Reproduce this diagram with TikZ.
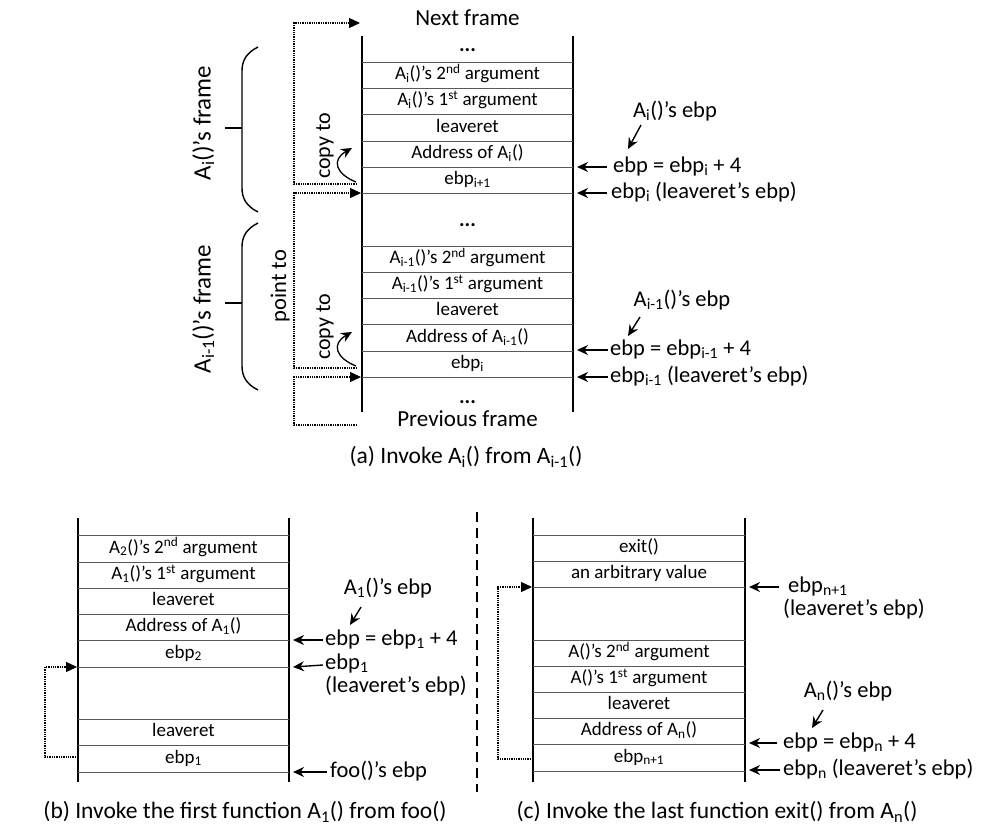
\documentclass[tikz,border=0pt]{standalone}
\usepackage{fontspec}
\setmainfont{Carlito}
\usetikzlibrary{arrows.meta}
\tikzset{
  stackline/.style={line width=1.6pt},
  rowline/.style={line width=0.9pt, draw=black!65},
  cell/.style={font=\fontsize{19}{22}\selectfont, inner sep=0pt, text height=13pt, text depth=4pt},
  dotcell/.style={font=\fontsize{21}{24}\selectfont\bfseries, inner sep=0pt, text height=13pt, text depth=4pt},
  lab/.style={font=\fontsize{22.5}{26}\selectfont, inner sep=0pt, text height=15pt, text depth=5pt},
  framelab/.style={font=\fontsize{25}{28}\selectfont, inner sep=0pt, text height=17pt, text depth=6pt},
  copylab/.style={font=\fontsize{22}{26}\selectfont, inner sep=0pt, text height=15pt, text depth=5pt},
  title/.style={font=\fontsize{23}{27}\selectfont, inner sep=0pt, text height=15pt, text depth=5pt},
  captext/.style={font=\fontsize{23.5}{27}\selectfont, inner sep=0pt, text height=16pt, text depth=5pt},
  ptr/.style={line width=1.4pt, -{Stealth[length=11pt,width=10pt]}},
  dots/.style={densely dotted, line width=1.3pt},
  dotarr/.style={dots, -{Triangle[length=11pt,width=10pt]}},
  brace/.style={line width=1.4pt},
  curvearr/.style={line width=1.3pt, -{Stealth[length=11pt,width=10pt]}},
}
\newcommand{\sbs}[1]{\textsubscript{#1}}
\newcommand{\sps}[1]{\textsuperscript{#1}}
\begin{document}
\begin{tikzpicture}[x=1pt,y=-1pt]
\useasboundingbox (0,0) rectangle (996,838);

% ================= (a) =================
\draw[stackline] (362,36) -- (362,412);
\draw[stackline] (573,36) -- (573,412);
\foreach \y in {62,88,114,141,167,193,246,272,298,324,351,377}
  \draw[rowline] (362,\y) -- (573,\y);

\node[title] (nf) at (467.5,20) {Next frame};
\node[dotcell] (d1) at (467.5,47) {...};
\node[cell] (a1) at (467.5,75) {A\sbs{i}()’s 2\sps{nd} argument};
\node[cell] (a2) at (467.5,101) {A\sbs{i}()’s 1\sps{st} argument};
\node[cell] (a3) at (467.5,127.5) {leaveret};
\node[cell] (a4) at (467.5,154) {Address of A\sbs{i}()};
\node[cell] (a5) at (467.5,180) {ebp\sbs{i+1}};
\node[dotcell] (d2) at (467.5,222) {...};
\node[cell] (a6) at (467.5,259) {A\sbs{i-1}()’s 2\sps{nd} argument};
\node[cell] (a7) at (467.5,285) {A\sbs{i-1}()’s 1\sps{st} argument};
\node[cell] (a8) at (467.5,311) {leaveret};
\node[cell] (a9) at (467.5,337.5) {Address of A\sbs{i-1}()};
\node[cell] (a10) at (467.5,364) {ebp\sbs{i}};
\node[dotcell] (d3) at (467.5,399) {...};
\node[title] (pf) at (467.5,421) {Previous frame};

% braces
\draw[brace] (258,47) .. controls (246,53) and (242,61) .. (242,71) -- (242,188)
  .. controls (242,198) and (246,206) .. (258,212);
\draw[brace] (225,128) -- (242,128);
\draw[brace] (258,223) .. controls (246,229) and (242,237) .. (242,247) -- (242,366)
  .. controls (242,376) and (246,384) .. (258,390);
\draw[brace] (225,303) -- (242,303);
\node[framelab, rotate=90] (fr1) at (205,123) {A\sbs{i}()’s frame};
\node[framelab, rotate=90] (fr2) at (205,309) {A\sbs{i-1}()’s frame};

% dotted pointers
\coordinate (n1) at (357,184);
\coordinate (n2) at (360,23);
\draw[dotarr] (n1) -- (294,184) -- (294,23) -- (n2);
\coordinate (n3) at (357,368);
\coordinate (n4) at (361,193);
\draw[dotarr] (n3) -- (294,368) -- (294,193) -- (n4);
\coordinate (n5) at (357,425);
\coordinate (n6) at (361,377);
\draw[dotarr] (n5) -- (294,425) -- (294,377) -- (n6);
\node[lab, rotate=90] (pt) at (281,286) {point to};

% copy to
\node[copylab, rotate=90] (ct1) at (325,146) {copy to};
\node[copylab, rotate=90] (ct2) at (325,327) {copy to};
\coordinate (c1s) at (356,182);
\coordinate (c1e) at (352,148);
\draw[curvearr] (c1s) .. controls (336,174) and (331,160) .. (c1e);
\coordinate (c2s) at (356,366);
\coordinate (c2e) at (352,332);
\draw[curvearr] (c2s) .. controls (336,358) and (331,344) .. (c2e);

% right labels (a)
\node[lab] (ea1) at (675,112) {A\sbs{i}()’s ebp};
\coordinate (ea1s) at (641,125);
\coordinate (ea1e) at (628,149);
\draw[ptr] (ea1s) -- (ea1e);
\node[lab, anchor=west] (eb1) at (613,167) {ebp = ebp\sbs{i} + 4};
\coordinate (pb1) at (577,167);
\draw[ptr] ([xshift=-6pt]eb1.west) -- (pb1);
\node[lab, anchor=west] (eb2) at (611,193) {ebp\sbs{i} (leaveret’s ebp)};
\coordinate (pb2) at (577,193);
\draw[ptr] ([xshift=-4pt]eb2.west) -- (pb2);

\node[lab] (ea2) at (682,301) {A\sbs{i-1}()’s ebp};
\coordinate (ea2s) at (640,317);
\coordinate (ea2e) at (628,336);
\draw[ptr] (ea2s) -- (ea2e);
\node[lab, anchor=west] (eb3) at (610,350) {ebp = ebp\sbs{i-1} + 4};
\coordinate (pb3) at (577,350);
\draw[ptr] ([xshift=-2pt]eb3.west) -- (pb3);
\node[lab, anchor=west] (eb4) at (610,377) {ebp\sbs{i-1} (leaveret’s ebp)};
\coordinate (pb4) at (577,377);
\draw[ptr] ([xshift=-2pt]eb4.west) -- (pb4);

\node[captext] (capa) at (466,458) {(a) Invoke A\sbs{i}() from A\sbs{i-1}()};

% ================= (b) =================
\draw[stackline] (78,518) -- (78,782);
\draw[stackline] (289,518) -- (289,782);
\foreach \y in {535,562,588,614,640,667,719,745,772}
  \draw[rowline] (78,\y) -- (289,\y);
\node[cell] (b1) at (183.5,548.5) {A\sbs{2}()’s 2\sps{nd} argument};
\node[cell] (b2) at (183.5,575) {A\sbs{1}()’s 1\sps{st} argument};
\node[cell] (b3) at (183.5,601) {leaveret};
\node[cell] (b4) at (183.5,627) {Address of A\sbs{1}()};
\node[cell] (b5) at (183.5,653.5) {ebp\sbs{2}};
\node[cell] (b6) at (183.5,732) {leaveret};
\node[cell] (b7) at (183.5,758.5) {ebp\sbs{1}};

\coordinate (bd1) at (76,757);
\coordinate (bd2) at (77,667);
\draw[dotarr] (bd1) -- (45,757) -- (45,667) -- (bd2);

\node[lab] (bl1) at (388,589) {A\sbs{1}()’s ebp};
\coordinate (bl1s) at (361,607);
\coordinate (bl1e) at (350,625);
\draw[ptr] (bl1s) -- (bl1e);
\node[lab, anchor=west] (bl2) at (325,640) {ebp = ebp\sbs{1} + 4};
\coordinate (pbb1) at (293,640);
\draw[ptr] ([xshift=-2pt]bl2.west) -- (pbb1);
\node[lab, anchor=west, text height=15pt, text depth=1pt] (bl3) at (325,662) {ebp\sbs{1}};
\coordinate (pbb2) at (293,667);
\draw[ptr] ([xshift=-2pt,yshift=-3pt]bl3.west) -- (pbb2);
\node[lab, anchor=west, text height=12pt, text depth=5pt] (bl4) at (325,689) {(leaveret’s ebp)};
\node[lab, anchor=west] (bl5) at (330,772) {foo()’s ebp};
\coordinate (pbb3) at (293,772);
\draw[ptr] ([xshift=-3pt]bl5.west) -- (pbb3);

\node[captext] (capb) at (245,813) {(b) Invoke the first function A\sbs{1}() from foo()};

% separator
\coordinate (s1) at (477,512);
\coordinate (s2) at (477,792);
\draw[line width=1.3pt, dash pattern=on 10pt off 6pt] (s1) -- (s2);

% ================= (c) =================
\draw[stackline] (533,518) -- (533,782);
\draw[stackline] (745,518) -- (745,782);
\foreach \y in {535,561,587,640,666,692,718,744,771}
  \draw[rowline] (533,\y) -- (745,\y);
\node[cell] (k1) at (639,548) {exit()};
\node[cell] (k2) at (639,574) {an arbitrary value};
\node[cell] (k3) at (639,653) {A()’s 2\sps{nd} argument};
\node[cell] (k4) at (639,679) {A()’s 1\sps{st} argument};
\node[cell] (k5) at (639,705) {leaveret};
\node[cell] (k6) at (639,731) {Address of A\sbs{n}()};
\node[cell] (k7) at (639,757.5) {ebp\sbs{n+1}};

\coordinate (cd1) at (531,759);
\coordinate (cd2) at (532,587);
\draw[dotarr] (cd1) -- (498,759) -- (498,587) -- (cd2);

\node[lab, anchor=west] (cl1) at (788,587) {ebp\sbs{n+1}};
\coordinate (pc1) at (749,587);
\draw[ptr] ([xshift=-9pt]cl1.west) -- (pc1);
\node[lab, anchor=west] (cl2) at (783,610) {(leaveret’s ebp)};
\node[lab] (cl3) at (848,692) {A\sbs{n}()’s ebp};
\coordinate (cl3s) at (823,710);
\coordinate (cl3e) at (812,728);
\draw[ptr] (cl3s) -- (cl3e);
\node[lab, anchor=west] (cl4) at (783,743) {ebp = ebp\sbs{n} + 4};
\coordinate (pc2) at (749,743);
\draw[ptr] ([xshift=-6pt]cl4.west) -- (pc2);
\node[lab, anchor=west] (cl5) at (783,770) {ebp\sbs{n} (leaveret’s ebp)};
\coordinate (pc3) at (749,770);
\draw[ptr] ([xshift=-3pt]cl5.west) -- (pc3);

\node[captext] (capc) at (717,813) {(c) Invoke the last function exit() from A\sbs{n}()};
\end{tikzpicture}
\end{document}
